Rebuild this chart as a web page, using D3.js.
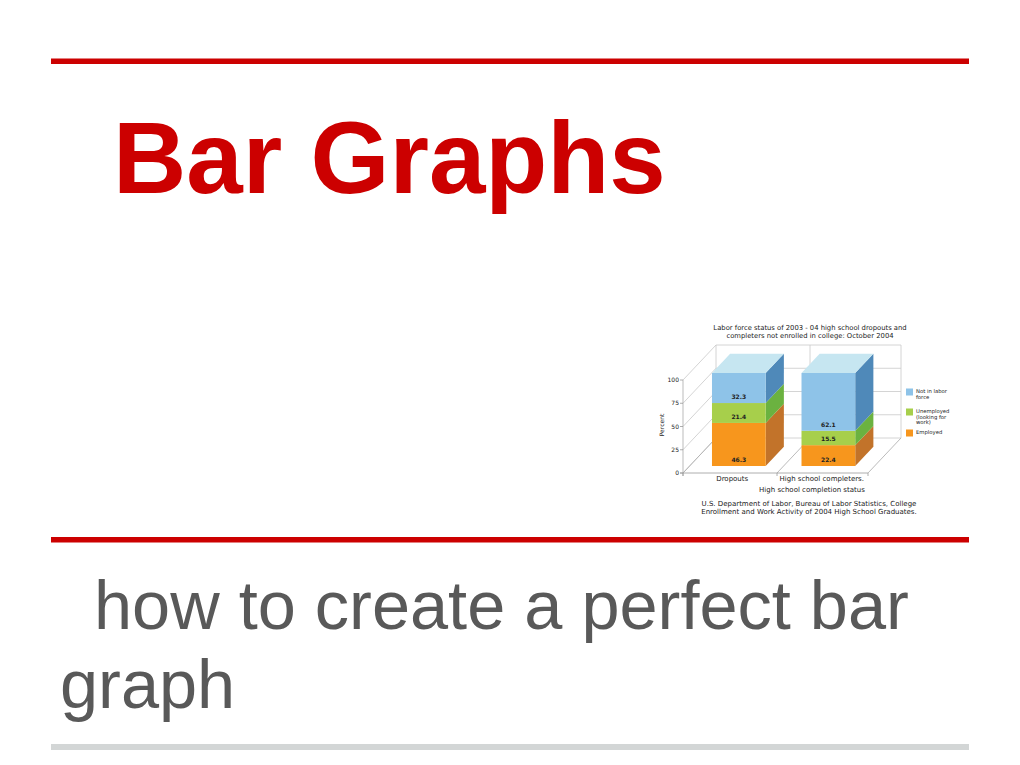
<!DOCTYPE html>
<html>
<head>
<meta charset="utf-8">
<script src="https://cdn.jsdelivr.net/npm/d3@7"></script>
<style>
  body { margin: 0; background: #fff; }
  svg { display: block; }
  .small { font-family: "DejaVu Sans", sans-serif; fill: #222; }
</style>
</head>
<body>
<svg id="slide" width="1020" height="765"></svg>
<script>
// chart data
const categories = ["Dropouts", "High school completers."];
const seriesNames = ["Employed", "Unemployed (looking for work)", "Not in labor force"];
const employed = [46.3, 22.4];
const unemployed = [21.4, 15.5];
const notInLabor = [32.3, 62.1];
const yTicks = [0, 25, 50, 75, 100];
const chartTitle = ["Labor force status of 2003 - 04 high school dropouts and",
                    "completers not enrolled in college: October 2004"];
const sourceLines = ["U.S. Department of Labor, Bureau of Labor Statistics, College",
                     "Enrollment and Work Activity of 2004 High School Graduates."];
const legendLines = [["Not in labor", "force"], ["Unemployed", "(looking for", "work)"], ["Employed"]];

const svg = d3.select("#slide");

// slide decoration
svg.append("rect").attr("x", 51).attr("y", 58.5).attr("width", 918).attr("height", 5.5).attr("fill", "#cc0000");
svg.append("rect").attr("x", 51).attr("y", 537).attr("width", 918).attr("height", 5.5).attr("fill", "#cc0000");
svg.append("rect").attr("x", 51).attr("y", 744).attr("width", 918).attr("height", 6).attr("fill", "#d3d6d6");

svg.append("text").attr("x", 113).attr("y", 193)
    .style("font-family", "'Liberation Sans', Arial, sans-serif").style("font-weight", "bold")
    .style("font-size", "101.5px").attr("fill", "#cc0000").text("Bar Graphs");
svg.append("text").attr("x", 94).attr("y", 629)
    .style("font-family", "'Liberation Sans', Arial, sans-serif")
    .style("font-size", "68.5px").attr("fill", "#595959").text("how to create a perfect bar");
svg.append("text").attr("x", 60).attr("y", 708)
    .style("font-family", "'Liberation Sans', Arial, sans-serif")
    .style("font-size", "68.5px").attr("fill", "#595959").text("graph");

// 3D chart: front plane + depth vector
const depth = { dx: 33, dy: -35 };
const barFront = 0.2, barBack = 0.75;   // fraction of depth taken by the bars
const y = d3.scaleLinear().domain([0, 100]).range([473, 380]);
const x = d3.scaleBand().domain(categories).range([683, 871]).paddingInner(0.4).paddingOuter(0.25);
const off = f => [depth.dx * f, depth.dy * f];

const chart = svg.append("g");
const gridColor = "#c9c9c9";

// back wall gridlines and left wall slanted lines
yTicks.forEach(t => {
    chart.append("line").attr("x1", 683 + depth.dx).attr("x2", 871 + depth.dx - 3)
        .attr("y1", y(t) + depth.dy).attr("y2", y(t) + depth.dy)
        .attr("stroke", gridColor).attr("stroke-width", 0.8);
    chart.append("line").attr("x1", 683).attr("x2", 683 + depth.dx)
        .attr("y1", y(t)).attr("y2", y(t) + depth.dy)
        .attr("stroke", gridColor).attr("stroke-width", 0.8);
});
// vertical lines on back wall + floor lines at category boundaries
const bounds = [683, x(categories[1]) - x.step() * 0.2, 868];
bounds.forEach(bx => {
    chart.append("line").attr("x1", bx + depth.dx).attr("x2", bx + depth.dx)
        .attr("y1", y(100) + depth.dy).attr("y2", y(0) + depth.dy)
        .attr("stroke", gridColor).attr("stroke-width", 0.8);
    chart.append("line").attr("x1", bx).attr("x2", bx + depth.dx)
        .attr("y1", y(0)).attr("y2", y(0) + depth.dy)
        .attr("stroke", "#aaa").attr("stroke-width", 0.8);
});
// front axis lines
chart.append("line").attr("x1", 683).attr("x2", 683).attr("y1", y(100)).attr("y2", y(0) + 3)
    .attr("stroke", "#aaa").attr("stroke-width", 0.8);
chart.append("line").attr("x1", 680).attr("x2", 868).attr("y1", y(0)).attr("y2", y(0))
    .attr("stroke", "#999").attr("stroke-width", 0.8);
bounds.forEach(bx => chart.append("line").attr("x1", bx).attr("x2", bx).attr("y1", y(0)).attr("y2", y(0) + 3)
    .attr("stroke", "#999").attr("stroke-width", 0.8));
yTicks.forEach(t => chart.append("line").attr("x1", 680).attr("x2", 683).attr("y1", y(t)).attr("y2", y(t))
    .attr("stroke", "#999").attr("stroke-width", 0.8));

// stacked data
const rows = categories.map((c, i) => ({ cat: c, Employed: employed[i],
    "Unemployed (looking for work)": unemployed[i], "Not in labor force": notInLabor[i] }));
const stack = d3.stack().keys(seriesNames)(rows);
const faces = {
    "Employed": { front: "#f7961d", side: "#c2732a", top: "#fbc27a" },
    "Unemployed (looking for work)": { front: "#a7cf4b", side: "#6bb240", top: "#d4eaa0" },
    "Not in labor force": { front: "#8ec3e8", side: "#4f89b9", top: "#c6e6f1" }
};

const [fx, fy] = off(barFront);
const [bx2, by2] = off(barBack);
const ddx = bx2 - fx, ddy = by2 - fy;

stack.forEach((layer, li) => {
    const col = faces[layer.key];
    layer.forEach(d => {
        const x0 = x(d.data.cat) + fx, x1 = x0 + x.bandwidth();
        const yb = y(d[0]) + fy, yt = y(d[1]) + fy;
        // side face
        chart.append("path").attr("fill", col.side)
            .attr("d", `M${x1},${yb}L${x1 + ddx},${yb + ddy}L${x1 + ddx},${yt + ddy}L${x1},${yt}Z`);
        // front face
        chart.append("rect").attr("x", x0).attr("y", yt).attr("width", x1 - x0).attr("height", yb - yt)
            .attr("fill", col.front);
        if (li === stack.length - 1) {
            chart.append("path").attr("fill", col.top)
                .attr("d", `M${x0},${yt}L${x0 + ddx},${yt + ddy}L${x1 + ddx},${yt + ddy}L${x1},${yt}Z`);
        }
        chart.append("text").attr("class", "small")
            .attr("x", (x0 + x1) / 2).attr("y", yb - 4)
            .attr("text-anchor", "middle").style("font-size", "6px").style("font-weight", "bold")
            .attr("fill", "#1c2340").text(d3.format(".1f")(d[1] - d[0]));
    });
});

// y tick labels
yTicks.forEach(t => chart.append("text").attr("class", "small").attr("x", 679).attr("y", y(t) + 2)
    .attr("text-anchor", "end").style("font-size", "6px").attr("fill", "#444").text(t));
chart.append("text").attr("class", "small").attr("transform", "translate(664,425) rotate(-90)")
    .attr("text-anchor", "middle").style("font-size", "6px").attr("fill", "#444").text("Percent");

// category labels
categories.forEach(c => chart.append("text").attr("class", "small")
    .attr("x", x(c) + x.bandwidth() / 2).attr("y", 481)
    .attr("text-anchor", "middle").style("font-size", "7px").attr("fill", "#333").text(c));
chart.append("text").attr("class", "small").attr("x", 812).attr("y", 492)
    .attr("text-anchor", "middle").style("font-size", "7px").attr("fill", "#333")
    .text("High school completion status");

// title and source
chartTitle.forEach((t, i) => chart.append("text").attr("class", "small")
    .attr("x", 810).attr("y", 330 + i * 7.5).attr("text-anchor", "middle")
    .style("font-size", "6.8px").attr("fill", "#333").text(t));
sourceLines.forEach((t, i) => chart.append("text").attr("class", "small")
    .attr("x", 809).attr("y", 506 + i * 8).attr("text-anchor", "middle")
    .style("font-size", "7px").attr("fill", "#333").text(t));

// legend
const legendKeys = seriesNames.slice().reverse();
const legendY = [392, 412, 433];
legendKeys.forEach((k, i) => {
    chart.append("rect").attr("x", 906).attr("y", legendY[i] - 3.5).attr("width", 7).attr("height", 7)
        .attr("fill", faces[k].front);
    legendLines[i].forEach((ln, j) => chart.append("text").attr("class", "small")
        .attr("x", 916).attr("y", legendY[i] + 1 + j * 5.5)
        .style("font-size", "5.3px").attr("fill", "#333").text(ln));
});
</script>
</body>
</html>
